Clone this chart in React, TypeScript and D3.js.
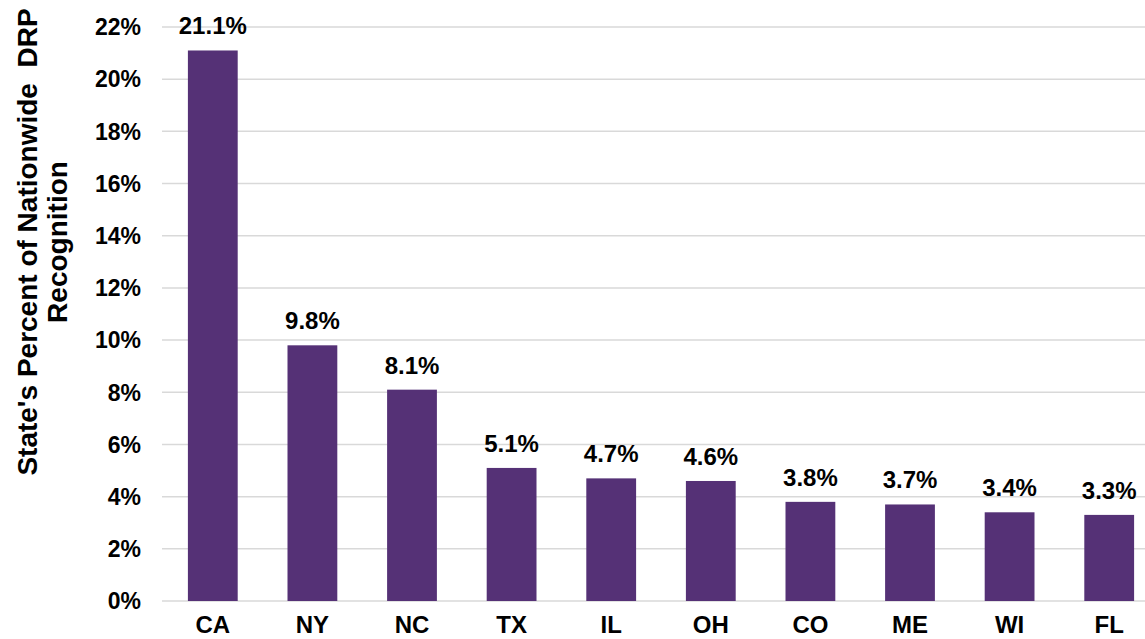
import * as d3 from "d3";
import { useRef, useEffect } from "react";

// values
const states = ["CA", "NY", "NC", "TX", "IL", "OH", "CO", "ME", "WI", "FL"];
const shares = [21.1, 9.8, 8.1, 5.1, 4.7, 4.6, 3.8, 3.7, 3.4, 3.3];
const yTicks = [0, 2, 4, 6, 8, 10, 12, 14, 16, 18, 20, 22];
const titleLines = ["State's Percent of Nationwide  DRP", "Recognition"];

const width = 1145;
const height = 639;
const barColor = "#553176";
const fontFamily = "'Liberation Sans', Arial, sans-serif";

export default function App() {
    const chartRef = useRef<SVGGElement>(null);

    useEffect(() => {
        const g = d3.select(chartRef.current);
        g.selectAll("*").remove();

        const xScale = d3.scaleBand<string>()
            .domain(states)
            .range([163, 1159])
            .paddingInner(0.5)
            .paddingOuter(0.25);

        const yScale = d3.scaleLinear()
            .domain([0, 22])
            .range([601, 27]);

        // gridlines
        g.append("g")
            .selectAll("line")
            .data(yTicks)
            .join("line")
            .attr("x1", 162)
            .attr("x2", width)
            .attr("y1", d => yScale(d))
            .attr("y2", d => yScale(d))
            .attr("stroke", "#d9d9d9")
            .attr("stroke-width", 1.5);

        // y axis labels
        g.append("g")
            .selectAll("text")
            .data(yTicks)
            .join("text")
            .attr("x", 141)
            .attr("y", d => yScale(d))
            .attr("dy", "0.36em")
            .attr("text-anchor", "end")
            .attr("font-size", 23)
            .text(d => `${d}%`);

        // bars
        g.append("g")
            .selectAll("rect")
            .data(shares)
            .join("rect")
            .attr("x", (_, i) => xScale(states[i]) ?? 0)
            .attr("y", d => yScale(d))
            .attr("width", xScale.bandwidth())
            .attr("height", d => yScale(0) - yScale(d))
            .attr("fill", barColor);

        // value labels
        g.append("g")
            .selectAll("text")
            .data(shares)
            .join("text")
            .attr("x", (_, i) => (xScale(states[i]) ?? 0) + xScale.bandwidth() / 2)
            .attr("y", d => yScale(d) - 16)
            .attr("text-anchor", "middle")
            .attr("font-size", 24)
            .text(d => `${d.toFixed(1)}%`);

        // category labels (kept just inside the bottom edge)
        g.append("g")
            .selectAll("text")
            .data(states)
            .join("text")
            .attr("x", d => (xScale(d) ?? 0) + xScale.bandwidth() / 2)
            .attr("y", 633)
            .attr("text-anchor", "middle")
            .attr("font-size", 24)
            .text(d => d);

        // axis title, two lines
        g.append("g")
            .attr("transform", "translate(0, 242) rotate(-90)")
            .selectAll("text")
            .data(titleLines)
            .join("text")
            .attr("x", 0)
            .attr("y", (_, i) => 37 + i * 30)
            .attr("text-anchor", "middle")
            .attr("font-size", 28)
            .style("white-space", "pre")
            .text(d => d);
    }, []);

    return (
        <svg
            width={width}
            height={height}
            style={{ position: "absolute", left: 0, top: 0, background: "#fff" }}
            fontFamily={fontFamily}
            fontWeight="bold"
            fill="#000"
        >
            <g ref={chartRef}></g>
        </svg>
    );
}
